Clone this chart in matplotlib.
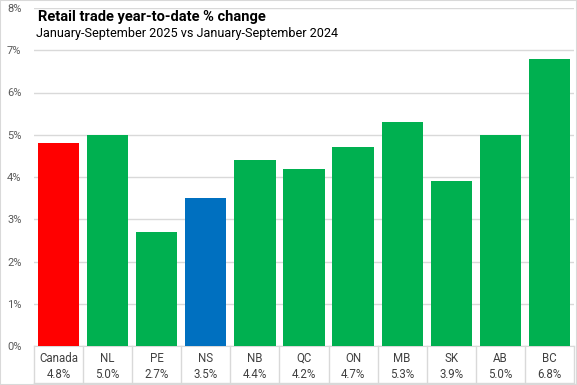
import matplotlib.pyplot as plt
from matplotlib.ticker import FuncFormatter

regioes = ['Canada', 'NL', 'PE', 'NS', 'NB', 'QC', 'ON', 'MB', 'SK', 'AB', 'BC']
variacao = [4.8, 5.0, 2.7, 3.5, 4.4, 4.2, 4.7, 5.3, 3.9, 5.0, 6.8]
cores = ['#FF0000', '#00B050', '#00B050', '#0070C0', '#00B050', '#00B050',
         '#00B050', '#00B050', '#00B050', '#00B050', '#00B050']
titulo = 'Retail trade year-to-date % change'
subtitulo = 'January-September 2025 vs January-September 2024'

plt.rcParams['font.family'] = ['Roboto', 'DejaVu Sans']
cinza = '#d9d9d9'
texto = '#595959'

fig = plt.figure(figsize=(5.77, 3.85), dpi=100)
ax = fig.add_axes([34 / 577, 1 - 346 / 385, 540 / 577, 338 / 385])

x = list(range(len(regioes)))
ax.bar(x, variacao, width=0.84, color=cores, zorder=3)

ax.set_xlim(-0.5, len(regioes) - 0.5)
ax.set_ylim(0, 8)
ax.set_yticks(range(0, 9))
ax.yaxis.set_major_formatter(FuncFormatter(lambda v, p: f'{v:.0f}%'))
ax.tick_params(axis='y', length=0, pad=9, labelsize=8, labelcolor=texto)
ax.set_xticks([])
ax.grid(axis='y', color=cinza, linewidth=1, zorder=0)
for lado in ['top', 'right', 'left']:
    ax.spines[lado].set_visible(False)
ax.spines['bottom'].set_color(cinza)

# tabela com os nomes e valores debaixo das barras
trans = ax.get_xaxis_transform()
fundo = -37 / 338
for i, (nome, valor) in enumerate(zip(regioes, variacao)):
    ax.text(i, -12 / 338, nome, transform=trans, ha='center', va='center',
            fontsize=8.3, color='#404040')
    ax.text(i, -28 / 338, f'{valor:.1f}%', transform=trans, ha='center', va='center',
            fontsize=8.3, color='#404040')
for b in range(len(regioes) + 1):
    ax.plot([b - 0.5, b - 0.5], [0, fundo], transform=trans, color=cinza,
            linewidth=1, clip_on=False)
ax.plot([-0.5, len(regioes) - 0.5], [fundo, fundo], transform=trans, color=cinza,
        linewidth=1, clip_on=False)

fig.text(38 / 577, 1 - 17 / 385, titulo, fontsize=10.5, fontweight='bold',
         va='center', ha='left', color='black')
fig.text(36 / 577, 1 - 33 / 385, subtitulo, fontsize=9.1, va='center', ha='left',
         color='black')

# borda da figura
fig.patches.append(plt.Rectangle((0, 0), 1, 1, transform=fig.transFigure, fill=False,
                                 edgecolor=cinza, linewidth=1.5))

fig.savefig('out.png', dpi=100)
